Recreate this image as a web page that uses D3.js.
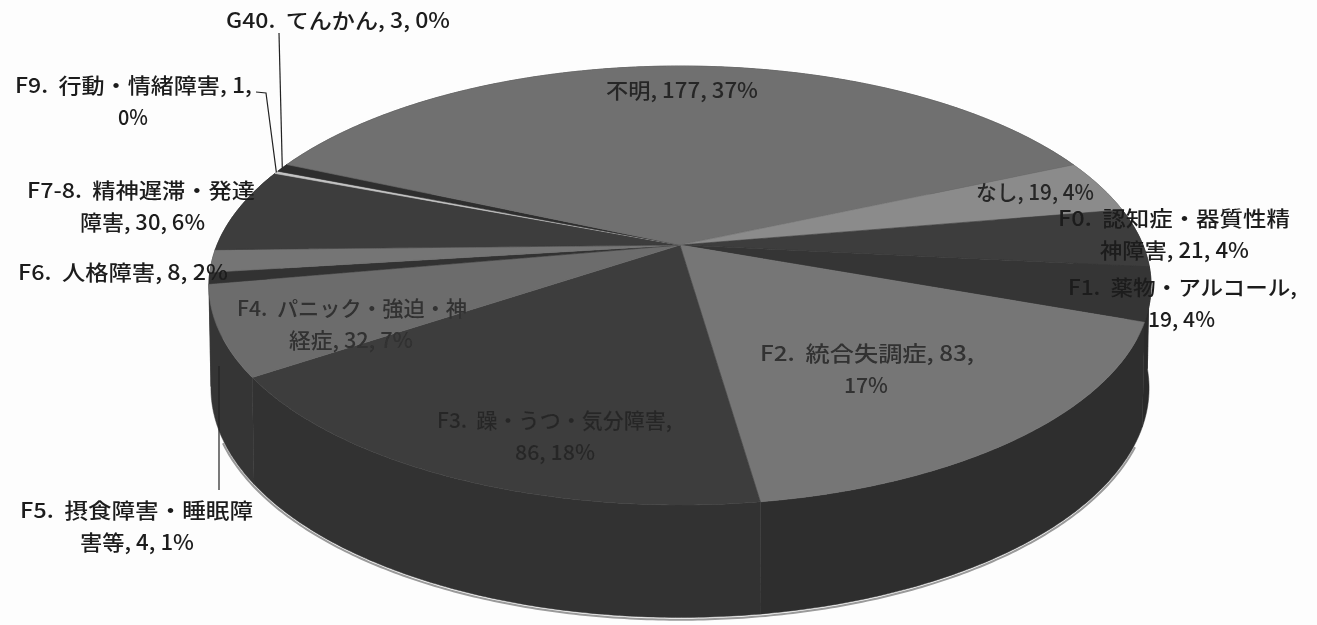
<!DOCTYPE html>
<html>
<head>
<meta charset="utf-8">
<script src="https://cdn.jsdelivr.net/npm/d3@7"></script>
<style>
  html, body { margin: 0; padding: 0; background: #fdfdfd; }
  svg { display: block; }
  text { font-family: "Noto Sans CJK JP", "Noto Sans", sans-serif; white-space: pre; font-weight: 500; }
</style>
</head>
<body>
<div class="chart"></div>
<script>
// values, clockwise from the first slice
var categories = ["なし", "F0.  認知症・器質性精神障害", "F1.  薬物・アルコール", "F2.  統合失調症",
    "F3.  躁・うつ・気分障害", "F4.  パニック・強迫・神経症", "F5.  摂食障害・睡眠障害等", "F6.  人格障害",
    "F7-8.  精神遅滞・発達障害", "F9.  行動・情緒障害", "G40.  てんかん", "不明"];
var counts = [19, 21, 19, 83, 86, 32, 4, 8, 30, 1, 3, 177];
var percents = [4, 4, 4, 17, 18, 7, 1, 2, 6, 0, 0, 37];

var topColors = ["#8b8b8b", "#3d3d3d", "#363636", "#767676", "#3e3e3e", "#6c6c6c", "#333333", "#747474", "#3c3c3c", "#c4c4c4", "#2e2e2e", "#6f6f6f"];
var wallColors = ["#444444", "#2c2c2c", "#2a2a2a", "#2f2f2f", "#323232", "#363636", "#2c2c2c", "#3c3c3c", "#2e2e2e", "#555555", "#2a2a2a", "#3a3a3a"];
var labelColors = ["#262626", "#1c1c1c", "#1c1c1c", "#303030", "#282828", "#303030", "#1c1c1c", "#1c1c1c", "#1c1c1c", "#1c1c1c", "#1c1c1c", "#262626"];

// where each label goes: cut = text that starts the second line, w = width of each line
var labelLayout = [
    {x: 976, y: 192, w: [118]},
    {x: 1058, y: 218, cut: "神障害", x2: 1100, w: [232, 149]},
    {x: 1068, y: 287, cut: "19,", x2: 1148, w: [229, 67]},
    {x: 760, y: 353, cut: "17%", x2: 844, w: [214, 44]},
    {x: 437, y: 420, cut: "86,", x2: 515, w: [235, 80]},
    {x: 237, y: 308, cut: "経症", x2: 289, w: [230, 124]},
    {x: 20, y: 510, cut: "害等", x2: 80, w: [233, 114]},
    {x: 18, y: 272, w: [210]},
    {x: 27, y: 190, cut: "障害,", x2: 80, w: [228, 125]},
    {x: 15, y: 85, cut: "0%", x2: 118, w: [237, 30]},
    {x: 226, y: 20, w: [224]},
    {x: 606, y: 90, w: [152]}
];

var svgWidth = 1317;
var svgHeight = 625;
var cx = 680;
var skew = 0.1845; // perspective of the tilted disc
var topDisc = {y0: 245, rx: 463, ry: 212};
var lowDisc = {y0: 346, rx: 461, ry: 221.4};

var svg = d3.select(".chart").append("svg")
    .attr("width", svgWidth)
    .attr("height", svgHeight);

var defs = svg.append("defs");
defs.append("filter").attr("id", "soft").append("feGaussianBlur").attr("stdDeviation", 0.7);
defs.append("filter").attr("id", "softText").append("feGaussianBlur").attr("stdDeviation", 0.35);

// angle on the disc -> point on the page
function project(a, disc) {
    var u = Math.sin(a), v = -Math.cos(a);
    var s = 1 / (1 - skew * v);
    return [cx + disc.rx * u * s, disc.y0 + disc.ry * v * s];
}

function arcPoints(a0, a1, disc) {
    var n = Math.max(2, Math.ceil((a1 - a0) / 0.01));
    return d3.range(n + 1).map(function(i) { return project(a0 + (a1 - a0) * i / n, disc); });
}

var start = 66 * Math.PI / 180;
var slices = d3.pie().sort(null).value(d => d)
    .startAngle(start).endAngle(start + 2 * Math.PI)(counts);

var line = d3.line();
var pieGroup = svg.append("g").attr("filter", "url(#soft)");

// soft light edge under the pie
pieGroup.append("path")
    .attr("d", line(arcPoints(2.0, 4.3, {y0: lowDisc.y0 + 1, rx: lowDisc.rx + 1, ry: lowDisc.ry + 1})))
    .attr("fill", "none")
    .attr("stroke", "#9a9a9a")
    .attr("stroke-width", 2);

// walls, back ones first so the top face hides them
var wallOrder = slices.slice().sort(function(a, b) {
    return Math.cos(b.startAngle / 2 + b.endAngle / 2) - Math.cos(a.startAngle / 2 + a.endAngle / 2);
});
pieGroup.selectAll(".wall")
    .data(wallOrder)
    .enter()
    .append("path")
    .attr("class", "wall")
    .attr("d", function(d) {
        return line(arcPoints(d.startAngle, d.endAngle, topDisc)
            .concat(arcPoints(d.startAngle, d.endAngle, lowDisc).reverse())) + "Z";
    })
    .attr("fill", d => wallColors[d.index])
    .attr("stroke", d => wallColors[d.index])
    .attr("stroke-width", 0.5);

// top face
var apex = [cx, topDisc.y0];
pieGroup.selectAll(".face")
    .data(slices)
    .enter()
    .append("path")
    .attr("class", "face")
    .attr("d", d => line([apex].concat(arcPoints(d.startAngle, d.endAngle, topDisc))) + "Z")
    .attr("fill", d => topColors[d.index])
    .attr("stroke", d => topColors[d.index])
    .attr("stroke-width", 0.6);

// labels
var textGroup = svg.append("g").attr("filter", "url(#softText)");
slices.forEach(function(d, i) {
    var full = categories[i] + ", " + counts[i] + ", " + percents[i] + "%";
    var lay = labelLayout[i];
    var lines = [full];
    if (lay.cut) {
        var at = full.lastIndexOf(lay.cut);
        lines = [full.slice(0, at).trim(), full.slice(at)];
    }
    lines.forEach(function(t, j) {
        textGroup.append("text")
            .attr("x", j ? lay.x2 : lay.x)
            .attr("y", lay.y + j * 32 + 8)
            .attr("font-size", 21)
            .attr("fill", labelColors[i])
            .attr("textLength", lay.w[j])
            .attr("lengthAdjust", "spacingAndGlyphs")
            .text(t);
    });
});

// leader lines for the three thin slices
function midPoint(i) {
    return project((slices[i].startAngle + slices[i].endAngle) / 2, topDisc);
}
var leaders = [
    [[219, 490], [219, 366]],
    [[256, 92], [266, 93], midPoint(9)],
    [[279, 33], midPoint(10)]
];
svg.append("g").selectAll("path")
    .data(leaders)
    .enter()
    .append("path")
    .attr("d", d => line(d))
    .attr("fill", "none")
    .attr("stroke", "#222222")
    .attr("stroke-width", 1.2);
</script>
</body>
</html>
